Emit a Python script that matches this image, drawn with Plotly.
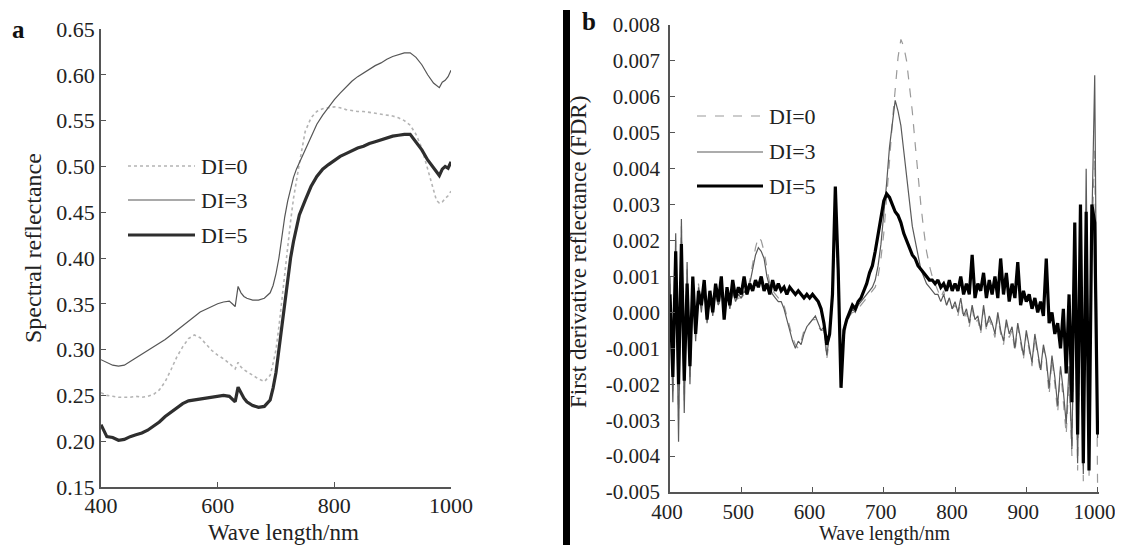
import plotly.graph_objects as go

# ---------------- panel a : spectral reflectance ----------------
wl_a = [400, 410, 420, 430, 440, 450, 460, 470, 480, 490,
        500, 510, 520, 530, 540, 550, 560, 570, 580, 590,
        600, 610, 620, 625, 630, 635, 640, 645, 650, 660,
        670, 680, 690, 695, 700, 705, 710, 715, 720, 725,
        730, 735, 740, 750, 760, 770, 780, 790, 800, 810,
        820, 830, 840, 850, 860, 870, 880, 890, 900, 910,
        920, 930, 940, 950, 960, 970, 975, 980, 985, 990,
        995, 1000]

refl_di0 = [0.253, 0.250, 0.249, 0.248, 0.248, 0.248, 0.249, 0.248, 0.249, 0.251,
            0.256, 0.265, 0.278, 0.292, 0.303, 0.312, 0.316, 0.313, 0.306, 0.299,
            0.294, 0.290, 0.285, 0.282, 0.279, 0.286, 0.281, 0.278, 0.276, 0.272,
            0.268, 0.265, 0.272, 0.285, 0.300, 0.325, 0.355, 0.385, 0.415, 0.440,
            0.465, 0.485, 0.503, 0.538, 0.553, 0.560, 0.563, 0.564, 0.565, 0.564,
            0.562, 0.561, 0.560, 0.560, 0.559, 0.558, 0.557, 0.556, 0.555, 0.553,
            0.550, 0.545, 0.535, 0.520, 0.497, 0.472, 0.463, 0.460, 0.461, 0.465,
            0.468, 0.473]

refl_di3 = [0.289, 0.286, 0.283, 0.282, 0.283, 0.287, 0.291, 0.295, 0.299, 0.303,
            0.307, 0.311, 0.316, 0.321, 0.327, 0.332, 0.337, 0.341, 0.344, 0.347,
            0.350, 0.352, 0.353, 0.350, 0.347, 0.369, 0.362, 0.358, 0.356, 0.354,
            0.354, 0.356, 0.362, 0.370, 0.383, 0.400, 0.425, 0.445, 0.462, 0.476,
            0.488, 0.497, 0.504, 0.518, 0.533, 0.546, 0.556, 0.565, 0.573, 0.580,
            0.587, 0.593, 0.598, 0.602, 0.606, 0.610, 0.613, 0.617, 0.620, 0.622,
            0.624, 0.624, 0.619, 0.611, 0.600, 0.591, 0.588, 0.586, 0.592, 0.594,
            0.598, 0.605]

refl_di5 = [0.218, 0.205, 0.204, 0.201, 0.202, 0.205, 0.207, 0.209, 0.212, 0.216,
            0.221, 0.227, 0.232, 0.237, 0.241, 0.244, 0.245, 0.246, 0.247, 0.248,
            0.249, 0.250, 0.249, 0.246, 0.243, 0.259, 0.252, 0.247, 0.243, 0.239,
            0.237, 0.238, 0.245, 0.258, 0.275, 0.300, 0.330, 0.355, 0.380, 0.400,
            0.418, 0.433, 0.447, 0.463, 0.478, 0.489, 0.497, 0.502, 0.507, 0.511,
            0.514, 0.517, 0.520, 0.522, 0.525, 0.527, 0.529, 0.531, 0.533, 0.534,
            0.535, 0.535, 0.527, 0.518, 0.507, 0.498, 0.494, 0.490, 0.497, 0.500,
            0.498, 0.505]

# ---------------- panel b : first derivative (FDR), 4 nm steps ----------------
wl_b = list(range(400, 1001, 4))

fdr_di0_e4 = [8, -22, 20, -30, 24, -25, 12, -18, 8, -6,        # 400-436
              8, 1, 7, -2, 4, 0, 6, 1, 6, 1,                   # 440-476
              4, 2, 5, 3, 4, 4, 5, 6, 9, 14,                   # 480-516
              18, 21, 20, 17, 12, 8, 6, 5, 4, 3,               # 520-556
              2, -1, -4, -7, -9, -10, -8, -5, -4, -3,          # 560-596
              -2, -2, -4, -5, -5, -13, -7, 3, 30, 9,           # 600-636
              -17, -7, -3, -1, 0, 0, 1, 2, 3, 4,               # 640-676
              5, 6, 7, 10, 15, 22, 31, 42, 53, 63,             # 680-716
              71, 76, 74, 70, 63, 56, 47, 38, 30, 23,          # 720-756
              17, 13, 10, 8, 6, 4, 6, 2, 4, 1,                 # 760-796
              2, -1, 3, -2, 0, -4, 1, -3, -2, -6,              # 800-836
              1, -5, -2, -4, -7, -1, -6, -9, -3, -7,           # 840-876
              -5, -11, -4, -8, -13, -6, -10, -15, -7, -12,     # 880-916
              -17, -10, -14, -23, -13, -20, -28, -16, -24, -34,  # 920-956
              -18, -40, 15, -44, 10, -47, 30, -46, 20, 45,     # 960-996
              -48]

fdr_di3_e4 = [10, -25, 22, -36, 26, -28, 14, -20, 9, -8,
              7, 0, 8, -3, 5, -1, 6, 2, 7, 0,
              5, 1, 6, 3, 5, 4, 6, 5, 8, 12,
              16, 18, 17, 15, 10, 7, 5, 4, 3, 3,
              1, -2, -5, -8, -10, -8, -9, -6, -4, -3,
              -2, -1, -3, -5, -4, -12, -6, 4, 33, 10,
              -19, -6, -2, -1, 1, 0, 2, 3, 4, 5,
              6, 7, 9, 13, 19, 27, 36, 46, 53, 59,
              56, 52, 45, 38, 30, 24, 20, 16, 12, 10,
              8, 7, 6, 5, 5, 3, 5, 2, 4, 1,
              3, 0, 4, -1, 1, -3, 2, -2, -1, -5,
              2, -4, -1, -3, -6, 0, -5, -8, -2, -6,
              -4, -10, -3, -7, -12, -5, -9, -14, -6, -11,
              -16, -9, -13, -21, -12, -18, -26, -15, -22, -31,
              -15, -38, 20, -42, 15, -45, 40, -40, 25, 66,
              -35]

fdr_di5_e4 = [5, -18, 17, -20, 19, -19, 8, -15, 10, -6,
              6, 2, 9, -2, 6, 0, 8, 3, 10, -2,
              7, 2, 9, 4, 7, 5, 10, 5, 8, 6,
              9, 7, 10, 6, 8, 5, 9, 6, 8, 6,
              7, 5, 7, 6, 5, 6, 5, 4, 5, 4,
              5, 4, 3, 1, -3, -9, -6, 5, 35, 12,
              -21, -5, -2, 0, 2, 1, 3, 4, 6, 8,
              11, 13, 17, 22, 27, 31, 33, 32, 30, 28,
              27, 25, 22, 20, 18, 16, 15, 13, 12, 11,
              10, 9, 9, 8, 9, 7, 8, 6, 9, 6,
              8, 6, 10, 5, 8, 5, 16, 4, 8, 6,
              11, 4, 9, 5, 10, 4, 15, 5, 11, 3,
              8, 4, 14, 2, 6, 3, 5, 1, 4, 0,
              3, -1, 15, -3, 0, -6, -3, -10, 1, -17,
              5, -25, 25, -34, 30, -42, 28, -44, 30, 25,
              -34]

# tick labels
ticks_a_x = [400, 600, 800, 1000]
ticks_a_y = [0.15, 0.20, 0.25, 0.30, 0.35, 0.40, 0.45, 0.50, 0.55, 0.60, 0.65]
ticks_b_x = [400, 500, 600, 700, 800, 900, 1000]
ticks_b_y = [-0.005, -0.004, -0.003, -0.002, -0.001, 0.0,
             0.001, 0.002, 0.003, 0.004, 0.005, 0.006, 0.007, 0.008]
ticktext_b_y = ["-0.005", "-0.004", "-0.003", "-0.002", "-0.001", "0.000",
                "0.001", "0.002", "0.003", "0.004", "0.005", "0.006", "0.007", "0.008"]

labels = ["DI=0", "DI=3", "DI=5"]

# the page body keeps its default 8px margin; size the figure so the page does
# not scroll and give every layout position in page pixels
OFF = 8
W, H = 1123 - 2 * OFF, 553 - 2 * OFF
FONT = "Liberation Serif, Times New Roman, serif"


def px(x):
    return (x - OFF) / W


def py(y):
    return 1 - (y - OFF) / H


# ---- styles
sty_a = [dict(color="#b4b4b4", width=1.6, dash="dot"),
         dict(color="#555555", width=1.2),
         dict(color="#2e2e2e", width=3.2)]
sty_b = [dict(color="#9a9a9a", width=1.2, dash="dash"),
         dict(color="#5a5a5a", width=1.2),
         dict(color="#000000", width=3.2)]

fig = go.Figure()

for lab, yy, st in zip(labels, [refl_di0, refl_di3, refl_di5], sty_a):
    fig.add_trace(go.Scatter(x=wl_a, y=yy, mode="lines", name=lab, line=st,
                             xaxis="x", yaxis="y", showlegend=False))

for lab, yy, st in zip(labels, [fdr_di0_e4, fdr_di3_e4, fdr_di5_e4], sty_b):
    fig.add_trace(go.Scatter(x=wl_b, y=[v * 1e-4 for v in yy], mode="lines", name=lab,
                             line=st, xaxis="x2", yaxis="y2", showlegend=False))

axis_common = dict(showline=True, linecolor="#555555", linewidth=1.5, showgrid=False,
                   zeroline=False, ticks="inside", ticklen=5, tickcolor="#555555",
                   automargin=False)
tf22 = dict(family=FONT, size=22, color="#222222")
tf21 = dict(family=FONT, size=21, color="#222222")

fig.update_layout(
    width=W, height=H,
    margin=dict(l=0, r=0, t=0, b=0),
    paper_bgcolor="white", plot_bgcolor="white",
    font=dict(family=FONT, color="#222222"),
    xaxis=dict(domain=[px(101), px(451)], range=[400, 1000], tickvals=ticks_a_x,
               anchor="y", tickfont=tf22, ticklabelstandoff=-2, **axis_common),
    yaxis=dict(domain=[py(487), py(29)], range=[0.15, 0.65], tickvals=ticks_a_y,
               tickformat=".2f", anchor="x", tickfont=tf22, **axis_common),
    xaxis2=dict(domain=[px(670), px(1099)], range=[400, 1002], tickvals=ticks_b_x,
                anchor="y2", tickfont=tf21, ticklabelshift=-3,
                ticklabeloverflow="allow", **axis_common),
    yaxis2=dict(domain=[py(492), py(25)], range=[-0.005, 0.008], tickvals=ticks_b_y,
                ticktext=ticktext_b_y, anchor="x2", tickfont=tf21, ticklabelstandoff=4,
                **axis_common),
)

# ---- thick black divider between the two panels
fig.add_shape(type="rect", xref="paper", yref="paper",
              x0=px(563), x1=px(570), y0=0, y1=py(10),
              fillcolor="black", line=dict(width=0))

# ---- legends drawn with long line samples as in the figure
leg_a = dict(x0=128, x1=195, ys=[166, 200, 235], tx=199)
leg_b = dict(x0=697, x1=763, ys=[116, 152, 186], tx=767)
for leg, sty in [(leg_a, sty_a), (leg_b, sty_b)]:
    for lab, yv, st in zip(labels, leg["ys"], sty):
        fig.add_shape(type="line", xref="paper", yref="paper",
                      x0=px(leg["x0"]), x1=px(leg["x1"]), y0=py(yv), y1=py(yv), line=st)
        fig.add_annotation(x=px(leg["tx"]), y=py(yv), xref="paper", yref="paper",
                           text=lab, showarrow=False, xanchor="left", yanchor="middle",
                           font=dict(family=FONT, size=22, color="#222222"))

# ---- axis titles and panel letters
titles = [
    dict(x=px(283), y=py(532), text="Wave length/nm", textangle=0, size=23),
    dict(x=px(885), y=py(533), text="Wave length/nm", textangle=0, size=20),
    dict(x=px(33), y=py(248), text="Spectral reflectance", textangle=-90, size=24),
    dict(x=px(579), y=py(252), text="First derivative reflectance (FDR)", textangle=-90, size=23),
]
for t in titles:
    fig.add_annotation(x=t["x"], y=t["y"], text=t["text"], textangle=t["textangle"],
                       xref="paper", yref="paper", showarrow=False,
                       xanchor="center", yanchor="middle",
                       font=dict(family=FONT, size=t["size"], color="#222222"))

fig.add_annotation(x=px(18), y=py(30), xref="paper", yref="paper", text="<b>a</b>",
                   showarrow=False, xanchor="center", yanchor="middle",
                   font=dict(family=FONT, size=25, color="#111111"))
fig.add_annotation(x=px(589), y=py(21), xref="paper", yref="paper", text="<b>b</b>",
                   showarrow=False, xanchor="center", yanchor="middle",
                   font=dict(family=FONT, size=25, color="#111111"))

fig.write_html("out.html")
